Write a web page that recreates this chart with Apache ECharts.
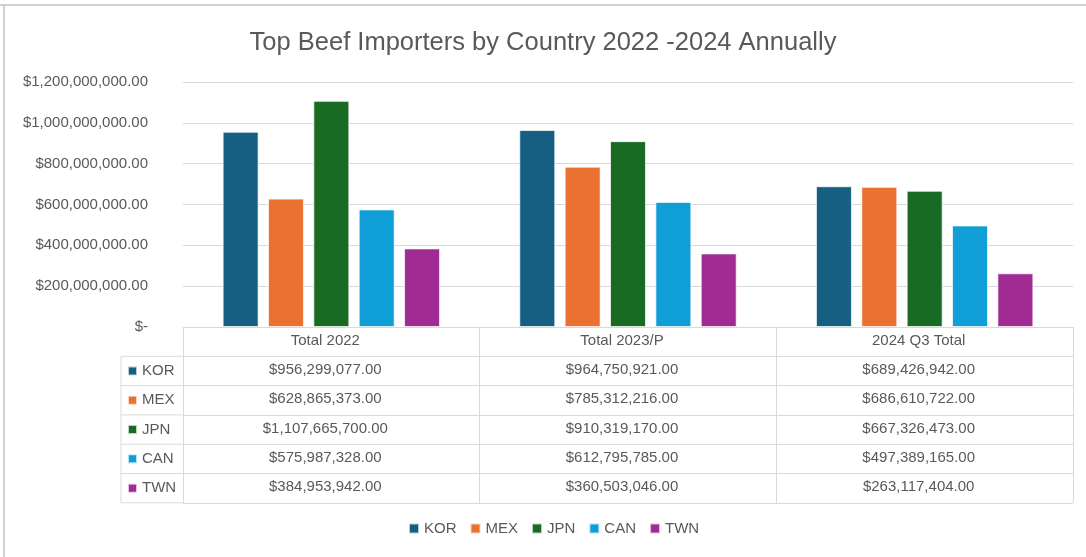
<!DOCTYPE html>
<html>
<head>
<meta charset="utf-8">
<script src="https://cdn.jsdelivr.net/npm/echarts@6/dist/echarts.min.js"></script>
<style>html,body{margin:0;padding:0;background:#fff;}#c{width:1086px;height:557px;}</style>
</head>
<body>
<div id="c"></div>
<script>
const categories = ['Total 2022', 'Total 2023/P', '2024 Q3 Total'];
const countries = ['KOR', 'MEX', 'JPN', 'CAN', 'TWN'];
const colors = ['#156082', '#E97132', '#196B24', '#0F9ED5', '#A02B93'];
const KOR = [956299077, 964750921, 689426942];
const MEX = [628865373, 785312216, 686610722];
const JPN = [1107665700, 910319170, 667326473];
const CAN = [575987328, 612795785, 497389165];
const TWN = [384953942, 360503046, 263117404];
const seriesValues = [KOR, MEX, JPN, CAN, TWN];
const yTicks = { min: 0, max: 1200000000, interval: 200000000 };

const FONT = "'Liberation Sans', Arial, sans-serif";
const TXT = '#595959';
const LINE = '#d9d9d9';
const GRID_LEFT = 183, GRID_RIGHT = 13, GRID_TOP = 82, GRID_BOTTOM = 230;
const ROW = 29.3;
const COL_LEFT = 121;

function money(n) {
  const s = n.toFixed(2);
  const parts = s.split('.');
  return '$' + parts[0].replace(/\B(?=(\d{3})+(?!\d))/g, ',') + '.' + parts[1];
}

const chart = echarts.init(document.getElementById('c'), null, { renderer: 'canvas' });

const cellLabel = { margin: 6, fontSize: 15, color: TXT, fontFamily: FONT, interval: 0, padding: [0, 12, 0, 0] };
const xAxes = [];
xAxes.push({
  type: 'category', gridIndex: 0, position: 'bottom', offset: 0,
  data: categories,
  axisLine: { show: true, lineStyle: { color: LINE, width: 1 } },
  axisTick: { show: true, interval: 0, length: ROW * 6, lineStyle: { color: LINE, width: 1 } },
  axisLabel: cellLabel
});
seriesValues.forEach((vals, i) => {
  xAxes.push({
    type: 'category', gridIndex: 0, position: 'bottom', offset: ROW * (i + 1),
    data: vals.map(money),
    axisLine: { show: true, lineStyle: { color: LINE, width: 1 } },
    axisTick: { show: false },
    axisLabel: cellLabel
  });
});
xAxes.push({
  type: 'category', gridIndex: 0, position: 'bottom', offset: ROW * 6,
  data: categories,
  axisLine: { show: true, lineStyle: { color: LINE, width: 1 } },
  axisTick: { show: false },
  axisLabel: { show: false }
});

const graphics = [
  { type: 'line', shape: { x1: 0, y1: 5, x2: 1086, y2: 5 }, style: { stroke: '#c3c3c3', lineWidth: 1.5 }, silent: true },
  { type: 'line', shape: { x1: 4, y1: 5, x2: 4, y2: 557 }, style: { stroke: '#c3c3c3', lineWidth: 1.5 }, silent: true }
];
const tableTop = 557 - GRID_BOTTOM;
graphics.push({ type: 'line', shape: { x1: COL_LEFT, y1: tableTop + ROW, x2: COL_LEFT, y2: tableTop + ROW * 6 }, style: { stroke: LINE, lineWidth: 1 }, silent: true });
for (let i = 1; i <= 6; i++) {
  graphics.push({ type: 'line', shape: { x1: COL_LEFT, y1: tableTop + ROW * i, x2: GRID_LEFT, y2: tableTop + ROW * i }, style: { stroke: LINE, lineWidth: 1 }, silent: true });
}

const option = {
  animation: false,
  backgroundColor: '#fff',
  color: colors,
  title: {
    text: 'Top Beef Importers by Country 2022 -2024 Annually',
    left: 'center', top: 25,
    textStyle: { fontSize: 25.5, fontWeight: 'normal', color: TXT, fontFamily: FONT }
  },
  legend: [
    {
      data: countries, orient: 'horizontal', left: 403, bottom: 16,
      icon: 'rect', itemWidth: 10, itemHeight: 10, itemGap: 13,
      textStyle: { fontSize: 15, color: TXT, fontFamily: FONT }
    },
    {
      data: countries, orient: 'vertical', left: 127, top: tableTop + ROW,
      padding: 0, icon: 'rect', itemWidth: 9, itemHeight: 9, itemGap: 0,
      textStyle: { fontSize: 15, color: TXT, fontFamily: FONT, lineHeight: ROW }
    }
  ],
  grid: { left: GRID_LEFT, right: GRID_RIGHT, top: GRID_TOP, bottom: GRID_BOTTOM, containLabel: false },
  xAxis: xAxes,
  yAxis: {
    type: 'value', min: yTicks.min, max: yTicks.max, interval: yTicks.interval,
    axisLine: { show: false }, axisTick: { show: false },
    splitLine: { lineStyle: { color: LINE, width: 1 } },
    axisLabel: {
      margin: 35, fontSize: 15, color: TXT, fontFamily: FONT,
      formatter: v => v === 0 ? '$-' : money(v)
    }
  },
  graphic: graphics,
  series: countries.map((name, i) => ({
    name: name, type: 'bar', xAxisIndex: 0, yAxisIndex: 0,
    data: seriesValues[i], barWidth: 36, barGap: '26%',
    itemStyle: { color: colors[i], borderColor: 'rgba(255,255,255,0.7)', borderWidth: 1 }
  }))
};
chart.setOption(option);
</script>
</body>
</html>
